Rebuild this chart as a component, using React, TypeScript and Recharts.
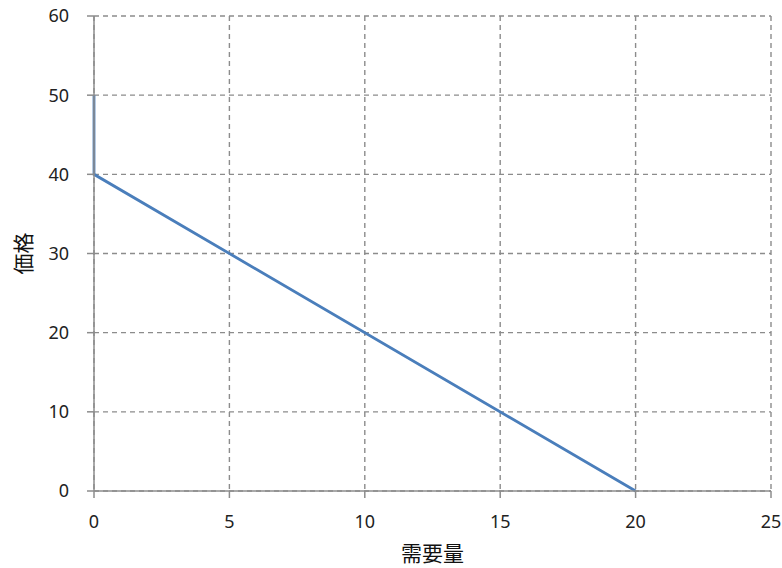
import { LineChart, Line, XAxis, YAxis, CartesianGrid, Label } from "recharts";

const quantity = [0, 0, 20];
const price = [50, 40, 0];
const xTicks = [0, 5, 10, 15, 20, 25];
const yTicks = [0, 10, 20, 30, 40, 50, 60];

const data = quantity.map((q, i) => ({ q, p: price[i] }));

const font = "'Noto Sans', 'Noto Sans CJK JP', sans-serif";
const axisColor = "#8c8c8c";

export default function App() {
    return (
        <div style={{ width: 782, height: 568, fontFamily: font }}>
            <style>{`body { margin: 0; }`}</style>
            <LineChart
                width={782}
                height={568}
                data={data}
                margin={{ top: 16, right: 11, bottom: 0, left: 0 }}
            >
                <CartesianGrid
                    stroke={axisColor}
                    strokeDasharray="5 4"
                    strokeWidth={1.4}
                    horizontalValues={yTicks}
                    verticalValues={xTicks}
                />
                <XAxis
                    type="number"
                    dataKey="q"
                    domain={[0, 25]}
                    ticks={xTicks}
                    interval={0}
                    height={77}
                    tickSize={7}
                    tickMargin={17}
                    stroke={axisColor}
                    strokeWidth={1.5}
                    tick={{ fill: "#222", fontSize: 18, fontFamily: font }}
                >
                    <Label
                        value="需要量"
                        position="insideBottom"
                        offset={7}
                        style={{ fill: "#111", fontSize: 21, fontFamily: font }}
                    />
                </XAxis>
                <YAxis
                    type="number"
                    dataKey="p"
                    domain={[0, 60]}
                    ticks={yTicks}
                    interval={0}
                    width={94}
                    tickSize={7}
                    tickMargin={18}
                    stroke={axisColor}
                    strokeWidth={1.5}
                    tick={{ fill: "#222", fontSize: 18, fontFamily: font }}
                >
                    <Label
                        value="価格"
                        angle={-90}
                        position="insideLeft"
                        offset={24}
                        style={{ fill: "#111", fontSize: 21, fontFamily: font, textAnchor: "middle" }}
                    />
                </YAxis>
                <Line
                    type="linear"
                    dataKey="p"
                    stroke="#4a7ebb"
                    strokeWidth={2.8}
                    dot={false}
                    activeDot={false}
                    isAnimationActive={false}
                />
            </LineChart>
        </div>
    );
}
